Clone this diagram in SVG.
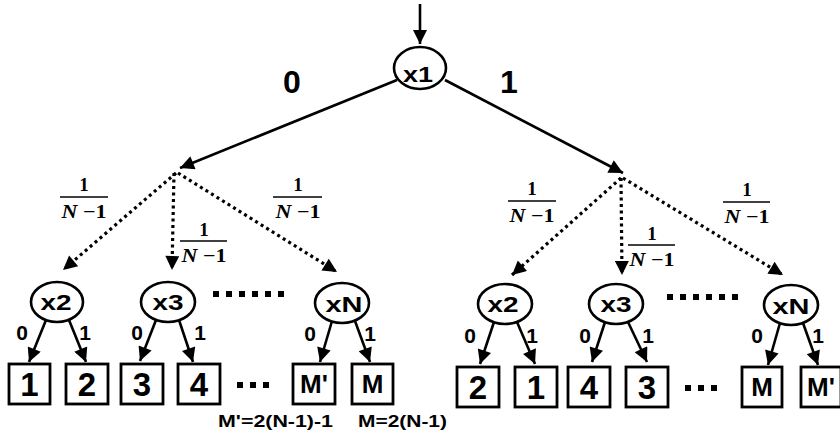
<svg xmlns="http://www.w3.org/2000/svg" width="840" height="440" viewBox="0 0 840 440">
<defs>
<marker id="ah" viewBox="0 0 10 10" refX="10" refY="5" markerWidth="16" markerHeight="14" markerUnits="userSpaceOnUse" orient="auto">
<path d="M0,0 L10,5 L0,10 z" fill="#000"/>
</marker>
<style>
.solid{stroke:#000;stroke-width:2.6;fill:none;marker-end:url(#ah)}
.dot{stroke:#000;stroke-width:3.2;fill:none;stroke-dasharray:3 3.5;marker-end:url(#ah)}
.node ellipse{fill:#fff;stroke:#000;stroke-width:2.6}
.node text{font-family:"Liberation Sans",Arial,sans-serif;font-weight:bold;font-size:22px;text-anchor:middle}
.box rect{fill:#fff;stroke:#000;stroke-width:2.8}
.box text{font-family:"Liberation Sans",Arial,sans-serif;font-weight:bold;font-size:33px;text-anchor:middle}
.box text.m{font-size:26px}
.lbl{font-family:"Liberation Sans",Arial,sans-serif;font-weight:bold;font-size:21px;text-anchor:middle}
.big{font-family:"Liberation Sans",Arial,sans-serif;font-weight:bold;font-size:32px;text-anchor:middle}
.fr{font-family:"Liberation Serif","Times New Roman",serif;font-weight:bold;font-size:19px;text-anchor:middle}
.fl{stroke:#000;stroke-width:1.6}
.ell{stroke:#000;stroke-width:6;stroke-dasharray:6 7;fill:none}
.note{font-family:"Liberation Sans",Arial,sans-serif;font-weight:bold;font-size:17px}
</style>
</defs>
<g id="connectors">
<line class="solid" x1="420" y1="4" x2="420" y2="44"/>
<line class="solid" x1="397" y1="80" x2="180" y2="168"/>
<line class="solid" x1="445" y1="80" x2="623" y2="173"/>
<line class="dot" x1="176" y1="173" x2="63" y2="270"/>
<line class="dot" x1="174" y1="173" x2="172" y2="270"/>
<line class="dot" x1="178" y1="173" x2="337" y2="272"/>
<line class="dot" x1="621" y1="178" x2="512" y2="275"/>
<line class="dot" x1="621" y1="178" x2="622" y2="275"/>
<line class="dot" x1="623" y1="178" x2="783" y2="275"/>
<line class="solid" x1="46" y1="320" x2="29" y2="362"/>
<line class="solid" x1="69" y1="320" x2="86" y2="362"/>
<line class="solid" x1="156" y1="320" x2="140" y2="361"/>
<line class="solid" x1="179" y1="320" x2="193" y2="362"/>
<line class="solid" x1="332" y1="321" x2="320" y2="362"/>
<line class="solid" x1="355" y1="321" x2="370" y2="362"/>
<line class="solid" x1="494" y1="322" x2="480" y2="364"/>
<line class="solid" x1="517" y1="322" x2="535" y2="364"/>
<line class="solid" x1="605" y1="322" x2="592" y2="362"/>
<line class="solid" x1="628" y1="322" x2="647" y2="362"/>
<line class="solid" x1="780" y1="323" x2="768" y2="365"/>
<line class="solid" x1="803" y1="323" x2="818" y2="365"/>
</g>
<g id="labels">
<text class="big" x="292" y="93">0</text>
<text class="big" x="509" y="93">1</text>
<text class="fr" x="84" y="191">1</text><line class="fl" x1="60" y1="197" x2="108" y2="197"/><text class="fr" x="84" y="218" textLength="45" lengthAdjust="spacingAndGlyphs"><tspan font-style="italic">N</tspan> −1</text>
<text class="fr" x="204" y="236">1</text><line class="fl" x1="180" y1="241" x2="227" y2="241"/><text class="fr" x="204" y="262" textLength="45" lengthAdjust="spacingAndGlyphs"><tspan font-style="italic">N</tspan> −1</text>
<text class="fr" x="298" y="191">1</text><line class="fl" x1="273" y1="197" x2="322" y2="197"/><text class="fr" x="298" y="218" textLength="45" lengthAdjust="spacingAndGlyphs"><tspan font-style="italic">N</tspan> −1</text>
<text class="fr" x="532" y="195">1</text><line class="fl" x1="508" y1="201" x2="556" y2="201"/><text class="fr" x="532" y="222" textLength="45" lengthAdjust="spacingAndGlyphs"><tspan font-style="italic">N</tspan> −1</text>
<text class="fr" x="652" y="240">1</text><line class="fl" x1="628" y1="245" x2="675" y2="245"/><text class="fr" x="652" y="266" textLength="45" lengthAdjust="spacingAndGlyphs"><tspan font-style="italic">N</tspan> −1</text>
<text class="fr" x="747" y="196">1</text><line class="fl" x1="723" y1="202" x2="770" y2="202"/><text class="fr" x="747" y="223" textLength="45" lengthAdjust="spacingAndGlyphs"><tspan font-style="italic">N</tspan> −1</text>
<text class="lbl" x="22" y="340">0</text><text class="lbl" x="85" y="340">1</text>
<text class="lbl" x="137" y="340">0</text><text class="lbl" x="200" y="340">1</text>
<text class="lbl" x="310" y="341">0</text><text class="lbl" x="370" y="341">1</text>
<text class="lbl" x="470" y="343">0</text><text class="lbl" x="532" y="343">1</text>
<text class="lbl" x="585" y="343">0</text><text class="lbl" x="648" y="343">1</text>
<text class="lbl" x="757" y="343">0</text><text class="lbl" x="818" y="343">1</text>
<line class="ell" x1="213" y1="294" x2="290" y2="294"/>
<line class="ell" x1="667" y1="297" x2="745" y2="297"/>
<line class="ell" x1="237" y1="385" x2="275" y2="385"/>
<line class="ell" x1="685" y1="388" x2="723" y2="388"/>
<text class="note" x="218" y="427" textLength="115" lengthAdjust="spacingAndGlyphs">M'=2(N-1)-1</text>
<text class="note" x="358" y="427" textLength="89" lengthAdjust="spacingAndGlyphs">M=2(N-1)</text>
</g>
<g id="n_x1" class="node"><ellipse cx="420" cy="68" rx="26" ry="21"/><text x="418" y="82" textLength="30" lengthAdjust="spacingAndGlyphs">x1</text></g>
<g id="n_lx2" class="node"><ellipse cx="57" cy="302" rx="26" ry="20"/><text x="56" y="310" textLength="31" lengthAdjust="spacingAndGlyphs">x2</text></g>
<g id="n_lx3" class="node"><ellipse cx="168" cy="302" rx="27" ry="20"/><text x="168" y="310" textLength="31" lengthAdjust="spacingAndGlyphs">x3</text></g>
<g id="n_lxN" class="node"><ellipse cx="342" cy="303" rx="27" ry="20"/><text x="344" y="312" textLength="37" lengthAdjust="spacingAndGlyphs">xN</text></g>
<g id="n_rx2" class="node"><ellipse cx="505" cy="304" rx="27" ry="20"/><text x="503" y="312" textLength="31" lengthAdjust="spacingAndGlyphs">x2</text></g>
<g id="n_rx3" class="node"><ellipse cx="616" cy="304" rx="27" ry="20"/><text x="616" y="312" textLength="31" lengthAdjust="spacingAndGlyphs">x3</text></g>
<g id="n_rxN" class="node"><ellipse cx="791" cy="305" rx="27" ry="20"/><text x="791" y="314" textLength="37" lengthAdjust="spacingAndGlyphs">xN</text></g>
<g id="b_l1" class="box"><rect x="9" y="364" width="41" height="40"/><text x="29.5" y="396">1</text></g>
<g id="b_l2" class="box"><rect x="66" y="364" width="42" height="40"/><text x="87" y="396">2</text></g>
<g id="b_l3" class="box"><rect x="121" y="364" width="42" height="40"/><text x="142" y="396">3</text></g>
<g id="b_l4" class="box"><rect x="178" y="364" width="42" height="40"/><text x="199" y="396">4</text></g>
<g id="b_lMp" class="box"><rect x="293" y="364" width="42" height="40"/><text class="m" x="314" y="393">M'</text></g>
<g id="b_lM" class="box"><rect x="352" y="364" width="41" height="40"/><text class="m" x="372.5" y="393">M</text></g>
<g id="b_r2" class="box"><rect x="457" y="367" width="42" height="40"/><text x="478" y="399">2</text></g>
<g id="b_r1" class="box"><rect x="515" y="367" width="42" height="40"/><text x="536" y="399">1</text></g>
<g id="b_r4" class="box"><rect x="568" y="367" width="42" height="40"/><text x="589" y="399">4</text></g>
<g id="b_r3" class="box"><rect x="626" y="367" width="42" height="40"/><text x="647" y="399">3</text></g>
<g id="b_rM" class="box"><rect x="742" y="367" width="40" height="40"/><text class="m" x="762" y="396">M</text></g>
<g id="b_rMp" class="box"><rect x="801" y="367" width="40" height="40"/><text class="m" x="821" y="396">M'</text></g>
</svg>
